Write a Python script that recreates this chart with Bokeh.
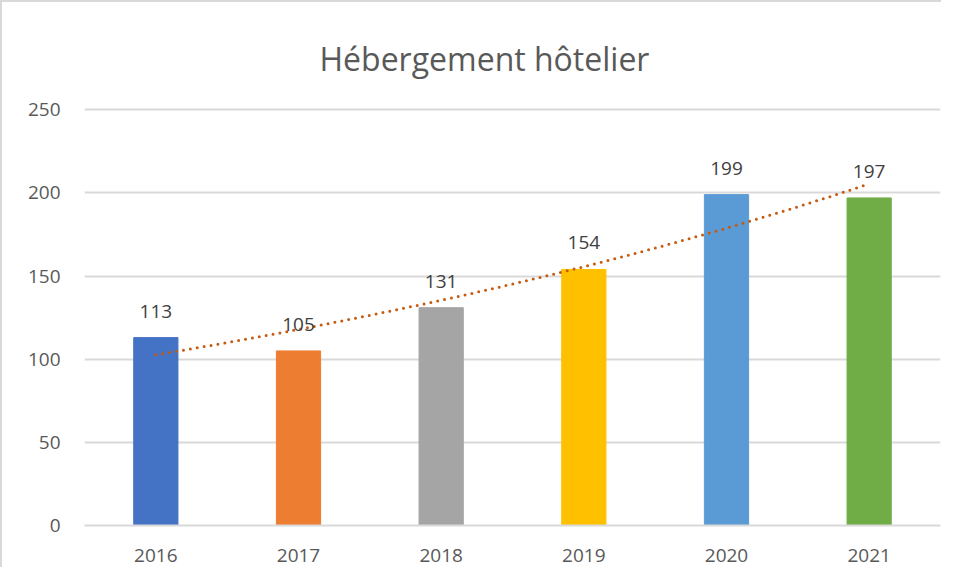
import numpy as np
from bokeh.plotting import figure
from bokeh.models import ColumnDataSource, Range1d, FixedTicker, Title
from bokeh.core.properties import value
from bokeh.embed import file_html
from bokeh.resources import INLINE

years = ["2016", "2017", "2018", "2019", "2020", "2021"]
counts = [113, 105, 131, 154, 199, 197]
colors = ["#4472C4", "#ED7D31", "#A5A5A5", "#FFC000", "#5B9BD5", "#70AD47"]
y_ticks = [0, 50, 100, 150, 200, 250]

xs = list(range(1, len(years) + 1))
src = ColumnDataSource(dict(x=xs, y=counts, c=colors, lab=[str(v) for v in counts]))

# exponential trendline (Excel-style least squares on ln(y))
b, a = np.polyfit(xs, np.log(counts), 1)
tx = np.linspace(xs[0], xs[-1], 60)
ty = np.exp(a + b * tx)

FONT = "Open Sans"
p = figure(width=941, height=567, output_backend="svg", toolbar_location=None,
           x_range=Range1d(0.5, 6.5), y_range=Range1d(0, 252),
           min_border_left=82, min_border_right=3, min_border_top=104, min_border_bottom=44,
           styles={"border-left": "2px solid #d9d9d9", "border-top": "2px solid #d9d9d9"})
p.outline_line_color = None
p.title = None
p.add_layout(Title(text="Hébergement hôtelier", text_font=FONT, text_font_size="32px",
                   text_font_style="normal", text_color="#595959", align="left",
                   offset=235, standoff=54), "above")

p.vbar(x="x", top="y", width=0.31, color="c", source=src)
p.line(tx, ty, line_color="#C55A11", line_width=3, line_dash="0 7", line_cap="round")
p.text(x="x", y="y", text="lab", source=src, text_align="center", text_baseline="bottom",
       y_offset=-20, text_font=value(FONT), text_font_size="19px", text_color="#404040")

p.yaxis.ticker = FixedTicker(ticks=y_ticks)
p.xaxis.ticker = FixedTicker(ticks=xs)
p.xaxis.major_label_overrides = {i: y for i, y in zip(xs, years)}
for ax in (p.xaxis[0], p.yaxis[0]):
    ax.major_tick_line_color = None
    ax.minor_tick_line_color = None
    ax.major_label_text_font = FONT
    ax.major_label_text_font_size = "19px"
    ax.major_label_text_color = "#595959"
p.yaxis.axis_line_color = None
p.xaxis.axis_line_color = "#d9d9d9"
p.xaxis.axis_line_width = 2
p.xaxis.major_label_standoff = 17
p.yaxis.major_label_standoff = 18
p.xgrid.grid_line_color = None
p.ygrid.grid_line_color = "#d9d9d9"
p.ygrid.grid_line_width = 2

open("out.html", "w").write(file_html(p, INLINE))
